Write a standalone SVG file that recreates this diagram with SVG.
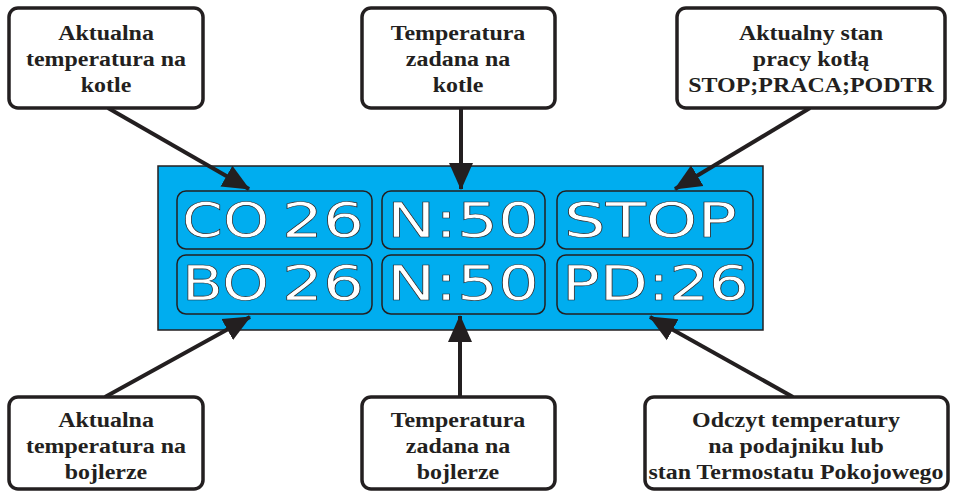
<svg xmlns="http://www.w3.org/2000/svg" width="953" height="497" viewBox="0 0 953 497">
<defs>
<marker id="ah" markerUnits="userSpaceOnUse" markerWidth="28" markerHeight="28" viewBox="0 0 28 28" refX="26" refY="14" orient="auto">
<path d="M0,2 L27,14 L0,26 Z" fill="#231f20"/>
</marker>
</defs>
<style>
.callout{fill:#fff;stroke:#231f20;stroke-width:3.5}
.lbl{font-family:"Liberation Serif","Times New Roman",serif;font-weight:bold;font-size:21px;fill:#231f20;text-anchor:middle}
.cell{fill:#00adef;stroke:#231f20;stroke-width:1.5}
.disp{font-family:"DejaVu Sans","Liberation Sans",sans-serif;font-size:48px;fill:#fff;stroke:#231f20;stroke-width:0.6}
.conn{stroke:#231f20;stroke-width:4;fill:none}
</style>
<rect width="953" height="497" fill="#fff"/>
<g id="display">
<rect x="158" y="166" width="605" height="164" fill="#00adef" stroke="#231f20" stroke-width="1.5"/>
<rect class="cell" x="177" y="191" width="195" height="58" rx="9"/>
<rect class="cell" x="382" y="191" width="163" height="58" rx="9"/>
<rect class="cell" x="557" y="191" width="196" height="58" rx="9"/>
<rect class="cell" x="177" y="255" width="195" height="59" rx="9"/>
<rect class="cell" x="382" y="255" width="163" height="59" rx="9"/>
<rect class="cell" x="557" y="255" width="196" height="59" rx="9"/>
<text class="disp" x="182" y="237" textLength="87" lengthAdjust="spacingAndGlyphs">CO</text>
<text class="disp" x="282" y="237" textLength="82" lengthAdjust="spacingAndGlyphs">26</text>
<text class="disp" x="387" y="237" textLength="152" lengthAdjust="spacingAndGlyphs">N:50</text>
<text class="disp" x="564" y="237" textLength="173" lengthAdjust="spacingAndGlyphs">STOP</text>
<text class="disp" x="182" y="300" textLength="87" lengthAdjust="spacingAndGlyphs">BO</text>
<text class="disp" x="282" y="300" textLength="82" lengthAdjust="spacingAndGlyphs">26</text>
<text class="disp" x="387" y="300" textLength="152" lengthAdjust="spacingAndGlyphs">N:50</text>
<text class="disp" x="562" y="300" textLength="187" lengthAdjust="spacingAndGlyphs">PD:26</text>
</g>
<g id="connectors">
<line class="conn" x1="108" y1="108" x2="249" y2="189" marker-end="url(#ah)"/>
<line class="conn" x1="461" y1="108" x2="461" y2="189" marker-end="url(#ah)"/>
<line class="conn" x1="810" y1="108" x2="675" y2="189" marker-end="url(#ah)"/>
<line class="conn" x1="105" y1="397" x2="250" y2="317" marker-end="url(#ah)"/>
<line class="conn" x1="460" y1="397" x2="460" y2="316" marker-end="url(#ah)"/>
<line class="conn" x1="793" y1="397" x2="650" y2="317" marker-end="url(#ah)"/>
</g>
<g id="n1">
<rect class="callout" x="9" y="8" width="194" height="100" rx="9"/>
<g transform="translate(106,0) scale(1.14,1)">
<text class="lbl" x="0" y="40">Aktualna</text>
<text class="lbl" x="0" y="66">temperatura na</text>
<text class="lbl" x="0" y="92">kotle</text>
</g>
</g>
<g id="n2">
<rect class="callout" x="362" y="8" width="193" height="100" rx="9"/>
<g transform="translate(458,0) scale(1.14,1)">
<text class="lbl" x="0" y="40">Temperatura</text>
<text class="lbl" x="0" y="66">zadana na</text>
<text class="lbl" x="0" y="92">kotle</text>
</g>
</g>
<g id="n3">
<rect class="callout" x="677" y="8" width="268" height="100" rx="9"/>
<g transform="translate(811,0) scale(1.14,1)">
<text class="lbl" x="0" y="40">Aktualny stan</text>
<text class="lbl" x="0" y="66">pracy kotłą</text>
<text class="lbl" x="0" y="92">STOP;PRACA;PODTR</text>
</g>
</g>
<g id="n4">
<rect class="callout" x="9" y="397" width="194" height="92" rx="9"/>
<g transform="translate(106,0) scale(1.14,1)">
<text class="lbl" x="0" y="427">Aktualna</text>
<text class="lbl" x="0" y="453">temperatura na</text>
<text class="lbl" x="0" y="479">bojlerze</text>
</g>
</g>
<g id="n5">
<rect class="callout" x="362" y="397" width="193" height="92" rx="9"/>
<g transform="translate(458,0) scale(1.14,1)">
<text class="lbl" x="0" y="427">Temperatura</text>
<text class="lbl" x="0" y="453">zadana na</text>
<text class="lbl" x="0" y="479">bojlerze</text>
</g>
</g>
<g id="n6">
<rect class="callout" x="645" y="397" width="303" height="92" rx="9"/>
<g transform="translate(796,0) scale(1.14,1)">
<text class="lbl" x="0" y="427">Odczyt temperatury</text>
<text class="lbl" x="0" y="453">na podajniku lub</text>
<text class="lbl" x="0" y="479">stan Termostatu Pokojowego</text>
</g>
</g>
</svg>
